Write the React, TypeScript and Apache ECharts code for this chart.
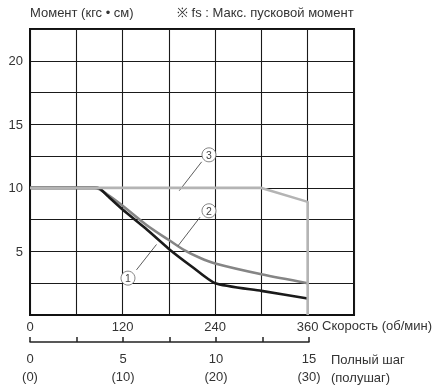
import React, { useEffect, useRef } from "react";
import * as echarts from "echarts";

// Speed (rpm) vs torque (kgf·cm)
const curve1: [number, number][] = [
  [0, 10], [88, 10], [100, 9.4], [120, 8.3], [150, 6.8], [180, 5.2], [210, 3.8], [240, 2.5], [300, 1.9], [360, 1.3],
];
const curve2: [number, number][] = [
  [0, 10], [84, 10], [100, 9.5], [120, 8.6], [155, 6.9], [180, 5.9], [200, 5.1], [220, 4.5], [240, 4.05], [300, 3.2], [360, 2.5],
];
const curve3: [number, number][] = [
  [0, 10], [300, 10], [360, 8.9], [360, 0],
];

const speedLabels = [0, 120, 240, 360];
const torqueLabels = [5, 10, 15, 20];
const stepLabels = [0, 5, 10, 15];

// annotation markers: [label, circle center, leader start, leader end]
const markerLabels = ["1", "2", "3"];
const markerCenters: [number, number][] = [[127, 2.9], [232, 8.2], [232, 12.6]];
const leaderFrom: [number, number][] = [[138, 3.55], [220.5, 7.7], [222.5, 12.05]];
const leaderTo: [number, number][] = [[164, 5.55], [192, 5.45], [193.5, 9.78]];

const FONT = "Liberation Sans";

export default function App() {
  const ref = useRef<HTMLDivElement>(null);
  useEffect(() => {
    if (!ref.current) return;
    const chart = echarts.init(ref.current, undefined, { renderer: "svg" });
    const markLineData = leaderFrom.map((p, i) => [{ coord: p }, { coord: leaderTo[i] }]);
    const markPointData = markerCenters.map((c, i) => ({ coord: c, value: markerLabels[i] }));
    chart.setOption({
      animation: false,
      textStyle: { fontFamily: FONT },
      grid: [
        { left: 30, right: 80, top: 29, bottom: 70, show: true, borderColor: "#111", borderWidth: 2, backgroundColor: "transparent" },
        { left: 30, right: 125, top: 300, bottom: 40 },
      ],
      xAxis: [
        {
          type: "value", min: 0, max: 420, interval: 60, gridIndex: 0,
          axisLine: { show: true, lineStyle: { color: "#111", width: 2 } },
          axisTick: { show: false },
          splitLine: { show: true, lineStyle: { color: "#1a1a1a", width: 1.1 } },
          axisLabel: {
            margin: 5, color: "#333", fontSize: 13, fontFamily: FONT,
            formatter: (v: number) => (speedLabels.includes(v) ? String(v) : ""),
          },
        },
        {
          type: "value", min: 0, max: 15, interval: 2.5, gridIndex: 1,
          axisLine: { show: true, onZero: false, lineStyle: { color: "#222", width: 1.5 } },
          axisTick: { show: true, inside: true, length: 5, lineStyle: { color: "#222", width: 1.5 } },
          splitLine: { show: false },
          axisLabel: {
            margin: 7, color: "#333", fontSize: 13, lineHeight: 18, fontFamily: FONT,
            formatter: (v: number) => (stepLabels.includes(v) ? `${v}\n(${v * 2})` : ""),
          },
        },
      ],
      yAxis: [
        {
          type: "value", min: 0, max: 22.5, interval: 2.5, gridIndex: 0,
          axisLine: { show: true, lineStyle: { color: "#111", width: 2 } },
          axisTick: { show: false },
          splitLine: { show: true, lineStyle: { color: "#1a1a1a", width: 1.1 } },
          axisLabel: {
            margin: 7, color: "#333", fontSize: 13, fontFamily: FONT,
            formatter: (v: number) => (torqueLabels.includes(v) ? String(v) : ""),
          },
        },
        { type: "value", gridIndex: 1, show: false, min: 0, max: 1 },
      ],
      series: [
        {
          type: "line", name: "2", data: curve2, symbol: "none", smooth: 0.3, z: 4,
          lineStyle: { color: "#858585", width: 2.6 },
        },
        {
          type: "line", name: "1", data: curve1, symbol: "none", smooth: 0.2, z: 5,
          lineStyle: { color: "#1a1a1a", width: 2.6 },
        },
        {
          type: "line", name: "3", data: curve3, symbol: "none", z: 6,
          lineStyle: { color: "#b4b4b4", width: 2.6 },
        },
        {
          type: "line", name: "annotations", data: [], symbol: "none", z: 7,
          markLine: {
            silent: true, symbol: "none", animation: false,
            label: { show: false },
            lineStyle: { color: "#333", width: 0.8, type: "solid" },
            data: markLineData,
          },
          markPoint: {
            silent: true, symbol: "circle", symbolSize: 14, animation: false,
            itemStyle: { color: "#fff", borderColor: "#666", borderWidth: 0.8 },
            label: { show: true, color: "#444", fontSize: 10.5, fontFamily: FONT, formatter: (p: any) => p.value },
            data: markPointData,
          },
        },
        { type: "line", xAxisIndex: 1, yAxisIndex: 1, data: [], symbol: "none" },
      ],
      graphic: [
        { type: "text", left: 30, top: 6, style: { text: "Момент (кгс • см)", fontSize: 13, fill: "#333", fontFamily: FONT } },
        { type: "text", left: 177, top: 6, style: { text: "※ fs : Макс. пусковой момент", fontSize: 13, fill: "#333", fontFamily: FONT } },
        { type: "text", left: 322, top: 319, style: { text: "Скорость (об/мин)", fontSize: 13, fill: "#333", fontFamily: FONT } },
        { type: "text", left: 331, top: 353, style: { text: "Полный шаг", fontSize: 13, fill: "#333", fontFamily: FONT } },
        { type: "text", left: 331, top: 371, style: { text: "(полушаг)", fontSize: 13, fill: "#333", fontFamily: FONT } },
      ],
    });
    return () => chart.dispose();
  }, []);
  return <div ref={ref} style={{ position: "fixed", left: 0, top: 0, width: 434, height: 385 }} />;
}
